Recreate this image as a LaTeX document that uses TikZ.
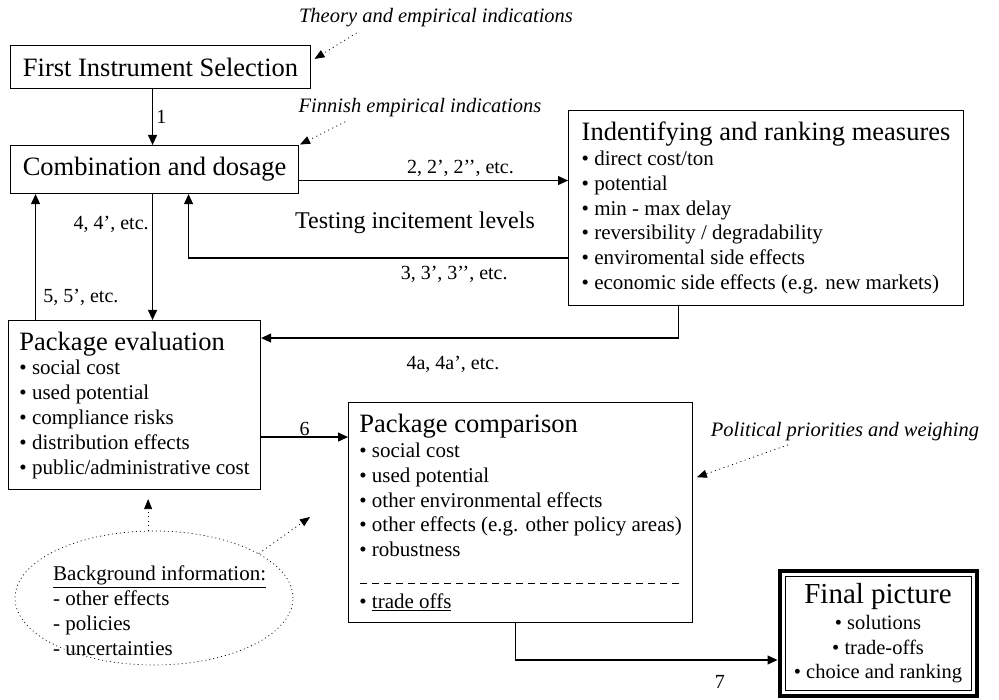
\documentclass[tikz,border=0pt]{standalone}
\usepackage{fontspec}
\setmainfont{Liberation Serif}
\usetikzlibrary{arrows.meta,positioning,calc,shapes.geometric}
\newcommand{\bul}{\textbullet\ }
\newcommand{\ttl}[1]{{\fontsize{26.5}{30}\selectfont #1}}

\begin{document}
\begin{tikzpicture}[x=1pt, y=-1pt,
  box/.style={draw, line width=1.1pt, anchor=north west, align=left, inner xsep=10pt, inner ysep=4pt, font=\fontsize{21}{24.8}\selectfont},
  arrow/.style={-{Triangle[length=10pt,width=9pt]}, line width=1.1pt},
  hint/.style={-{Triangle[length=10pt,width=8pt]}, line width=0.8pt, dash pattern=on 1pt off 3.5pt},
  lbl/.style={font=\fontsize{20}{24}\selectfont},
  note/.style={font=\fontsize{20.5}{24}\selectfont\itshape}
]
\useasboundingbox (0,0) rectangle (999,700);

\node[box, minimum width=300pt, minimum height=43pt, font=\fontsize{26.5}{30}\selectfont] (fis) at (10,45) {First Instrument Selection};
\node[box, minimum width=288pt, minimum height=48pt, font=\fontsize{26.5}{30}\selectfont] (comb) at (10,145) {Combination and dosage};
\node[box, minimum width=395pt, minimum height=195pt] (ident) at (568,110) {\ttl{Indentifying and ranking measures}\\
  \bul direct cost/ton\\ \bul potential\\ \bul min - max delay\\ \bul reversibility / degradability\\
  \bul enviromental side effects\\ \bul economic side effects (e.g. new markets)};
\node[box, minimum width=252pt, minimum height=169pt] (pe) at (8,320) {\ttl{Package evaluation}\\
  \bul social cost\\ \bul used potential\\ \bul compliance risks\\ \bul distribution effects\\ \bul public/administrative cost};
\node[box, minimum width=344pt, minimum height=220pt] (pc) at (348,402) {\ttl{Package comparison}\\
  \bul social cost\\ \bul used potential\\ \bul other environmental effects\\ \bul other effects (e.g. other policy areas)\\ \bul robustness\\[27pt]
  \bul \underline{trade offs}};
\node[draw, line width=1pt, align=center, minimum width=186pt, minimum height=114pt, font=\fontsize{20.5}{24.5}\selectfont] (fin) at (878,633) {{\fontsize{29}{33}\selectfont Final picture}\\[2pt]
  \bul solutions\\ \bul trade-offs\\ \bul choice and ranking};
\draw[line width=4pt] ([shift={(-5pt,-5pt)}]fin.south west) rectangle ([shift={(5pt,5pt)}]fin.north east);
\draw[dash pattern=on 7pt off 5pt, line width=0.9pt] ([xshift=12pt,yshift=40pt]pc.south west) -- ([xshift=-12pt,yshift=40pt]pc.south east);

% background info
\node[ellipse, draw, line width=0.7pt, dash pattern=on 1pt off 3pt, minimum width=278pt, minimum height=134pt] (bg) at (154,598) {};
\node[align=left, anchor=north west, inner sep=0pt, font=\fontsize{21}{25}\selectfont] (bgtxt) at (53,566) {\underline{Background information:}\\ - other effects\\ - policies\\ - uncertainties};
\coordinate (bgtip) at (310,517);

% side notes
\node[note] (theory) at (436,18) {Theory and empirical indications};
\node[note] (finnish) at (420,108) {Finnish empirical indications};
\node[note] (polit) at (845,432) {Political priorities and weighing};
\node[font=\fontsize{24}{28}\selectfont] (testing) at (415,223) {Testing incitement levels};

\draw[hint, shorten <=4pt, shorten >=4pt] ([xshift=-76pt]theory.south) -- ([yshift=6pt]fis.east);
\draw[hint, shorten <=2pt, shorten >=1pt] ([xshift=-73pt]finnish.south) -- (comb.north east);
\draw[hint, shorten >=4pt] ([xshift=-57pt]polit.south) -- ([yshift=34pt]pc.east);
\draw[hint, shorten >=9pt] (bg.95) -- (bg.95 |- pe.south);
\draw[hint] (bg.23) -- (bgtip);

% flow
\draw[arrow] ([xshift=-8pt]fis.south) -- ([xshift=-8pt]fis.south |- comb.north) node[lbl, right, midway] {1};
\draw[arrow] ([yshift=-11pt]comb.east) -- ([yshift=-11pt]comb.east -| ident.west) node[lbl, above, pos=0.6] {2, 2’, 2’’, etc.};
\draw[arrow] ([yshift=-50pt]ident.west) -| ([xshift=34pt]comb.south) node[lbl, below, pos=0.15, yshift=-4pt] {3, 3’, 3’’, etc.};
\draw[arrow] ([xshift=-2pt]comb.south) -- ([xshift=-2pt]comb.south |- pe.north) node[lbl, left, pos=0.24] {4, 4’, etc.};
\draw[arrow] ([xshift=-99pt]pe.north) -- ([xshift=-99pt]pe.north |- comb.south) node[lbl, right, pos=0.18, xshift=4pt] {5, 5’, etc.};
\draw[arrow] ([xshift=-88pt]ident.south) |- ([yshift=67pt]pe.east) node[lbl, below, pos=0.77, yshift=-14pt] {4a, 4a’, etc.};
\draw[arrow] ([yshift=-32pt]pe.east) -- ([yshift=-32pt]pe.east -| pc.west) node[lbl, above, midway, inner sep=1pt] {6};
\draw[arrow, shorten >=7pt] ([xshift=-5pt]pc.south) |- ([yshift=-27pt]fin.west) node[lbl, below, pos=0.88, yshift=-12pt] {7};
\end{tikzpicture}
\end{document}
